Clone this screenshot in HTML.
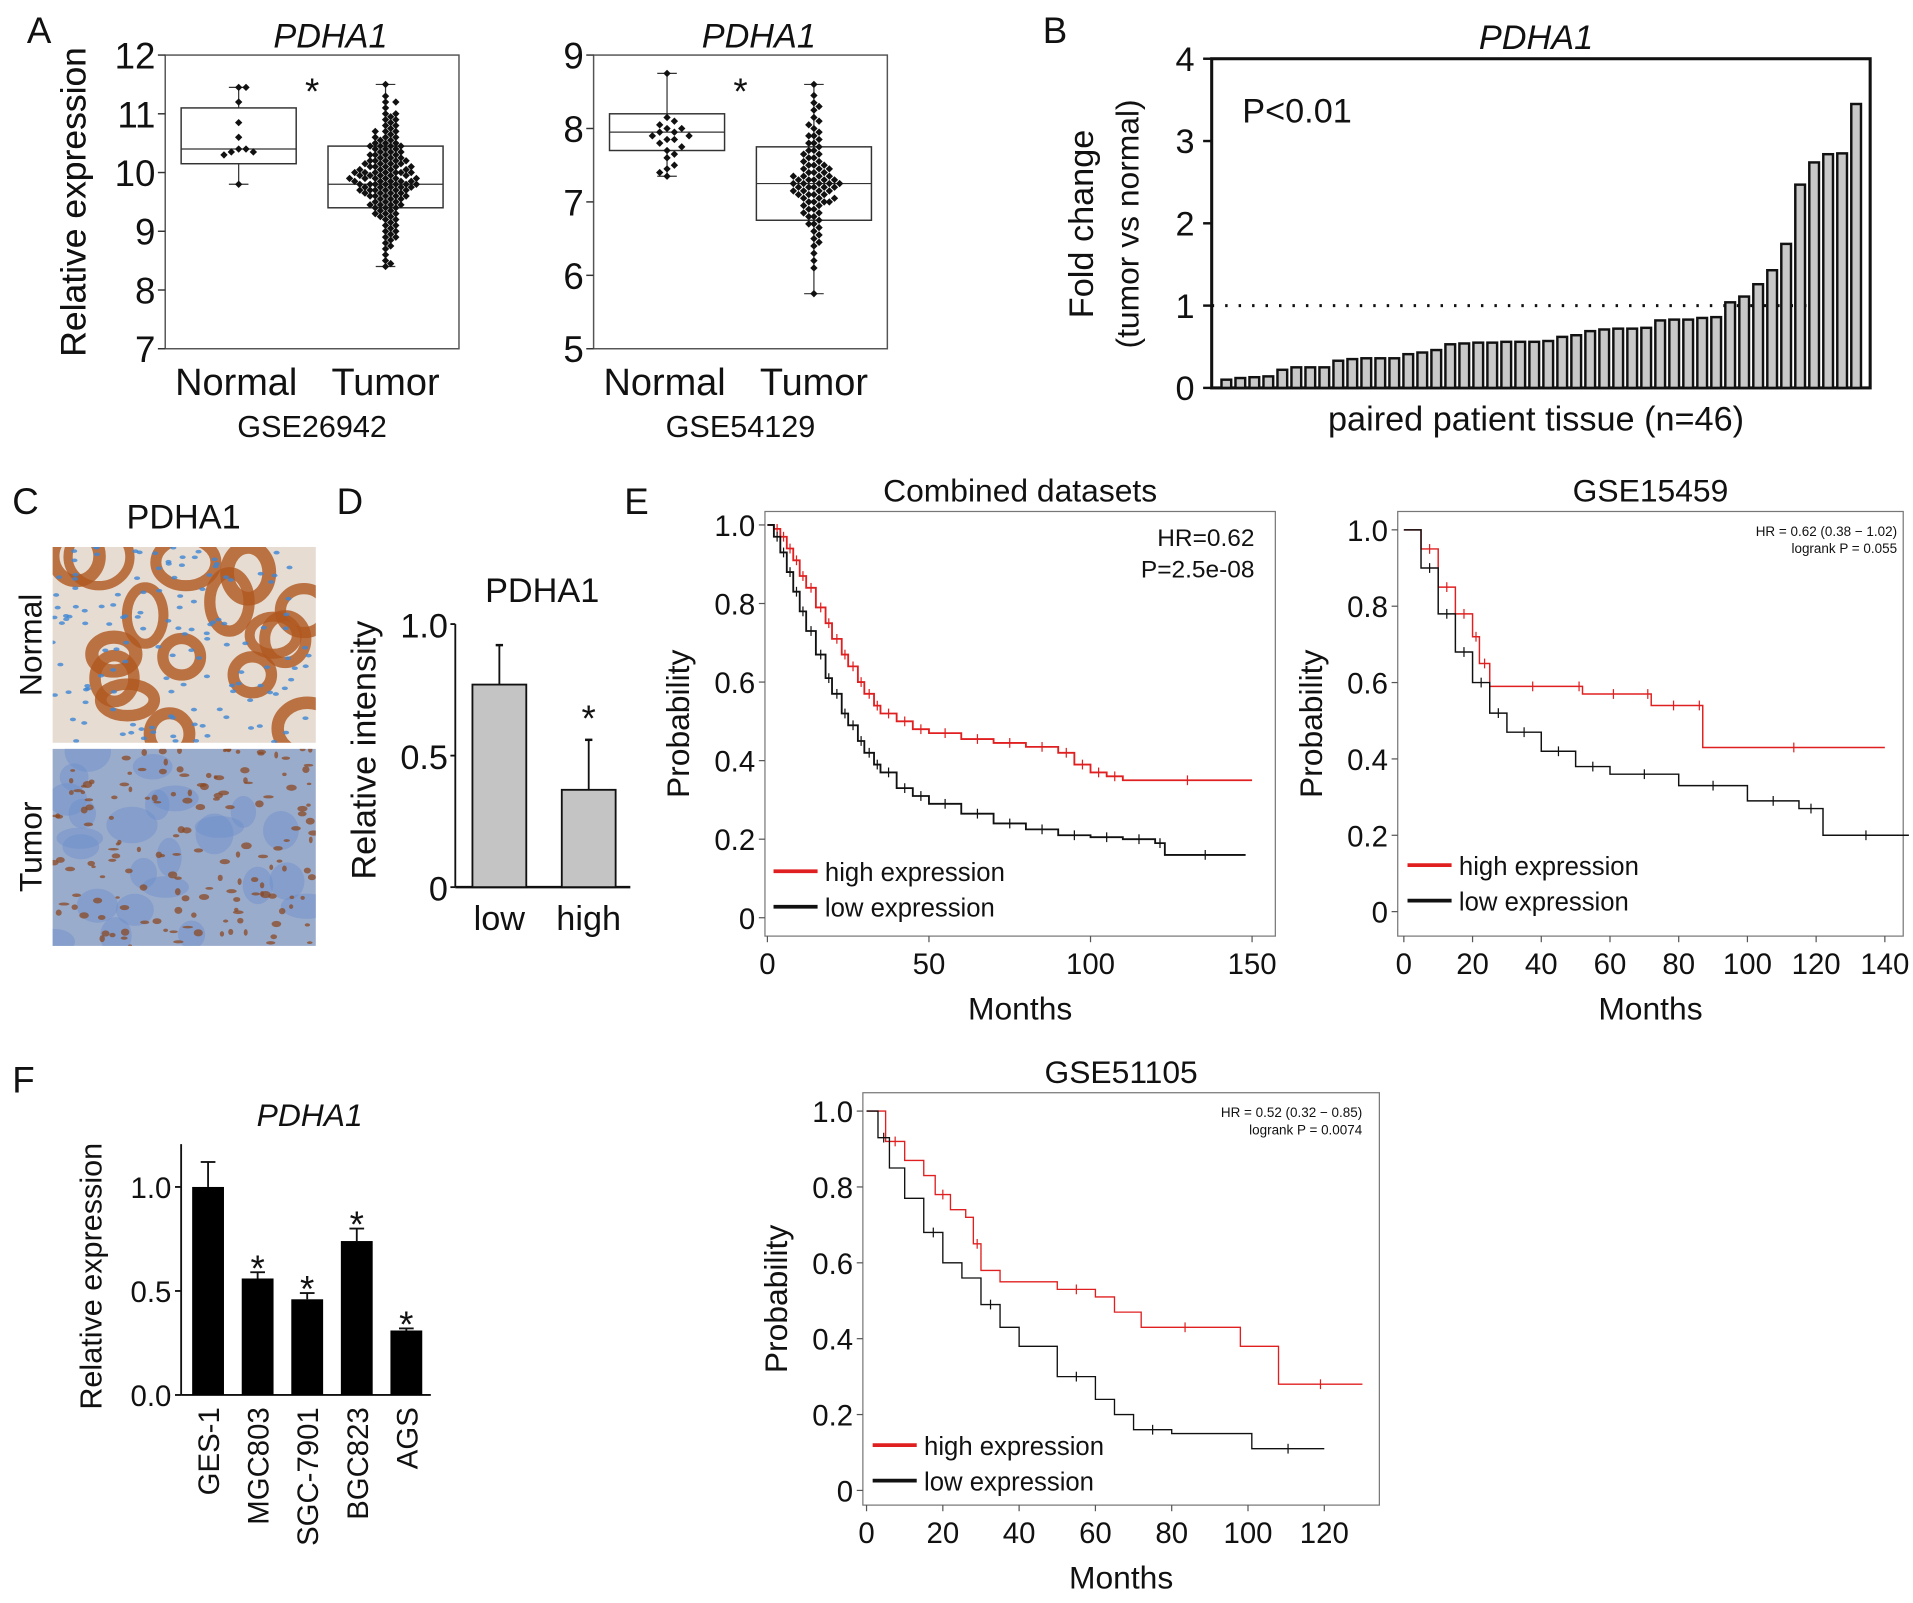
<!DOCTYPE html>
<html><head><meta charset="utf-8">
<style>
html,body{margin:0;padding:0;background:#fff;}
svg{display:block;font-family:"Liberation Sans",sans-serif;}
</style></head>
<body>
<svg id="fig" width="1913" height="1603" viewBox="0 0 1563 1310" preserveAspectRatio="none" xmlns="http://www.w3.org/2000/svg">
<defs>
<clipPath id="clipN"><rect x="43" y="447" width="215" height="160"/></clipPath>
<clipPath id="clipT"><rect x="43" y="612" width="215" height="161"/></clipPath>
</defs>
<rect width="1563" height="1310" fill="#fff"/>
<g id="root"></g>
</svg>
<script>
// ---------- data ----------
const a1NormalVals=[10.4,10.4,10.35,11.45,11.45,11.2,10.85,10.6,10.35,9.8,10.3];
const a1TumorVals=[11.5,11.3,11.2,11.1,11.0,10.95,10.9,10.85,10.8,10.75,10.7,10.7,10.65,10.6,10.6,10.55,10.5,10.5,10.45,10.45,10.4,10.4,10.35,10.35,10.3,10.3,10.25,10.25,10.2,10.2,10.2,10.15,10.15,10.1,10.1,10.1,10.05,10.05,10.0,10.0,10.0,10.0,9.95,9.95,9.95,9.9,9.9,9.9,9.85,9.85,9.85,9.8,9.8,9.8,9.8,9.75,9.75,9.75,9.7,9.7,9.7,9.65,9.65,9.6,9.6,9.6,9.55,9.55,9.5,9.5,9.45,9.45,9.4,9.4,9.35,9.3,9.3,9.25,9.2,9.15,9.1,9.05,9.0,8.95,8.9,8.85,8.8,8.7,8.6,8.5,8.45,8.4,
10.9,10.8,10.7,10.6,10.55,10.5,10.45,10.4,10.35,10.3,10.25,10.2,10.15,10.1,10.05,10.0,9.95,9.9,9.85,9.8,9.75,9.7,9.65,9.6,9.55,9.5,9.45,9.4,9.35,9.3,9.2,9.1,9.0,8.9,10.3,10.2,10.1,10.0,9.9,9.8,9.7,9.6,10.15,10.05,9.95,9.85,9.75,9.65,10.0,9.9,9.8,9.7,10.45,9.45,9.25,8.75,11.2,11.0];
const a2NormalVals=[8.75,8.15,8.1,8.05,8.0,8.0,7.95,7.95,7.9,7.9,7.85,7.85,7.8,7.75,7.7,7.65,7.6,7.5,7.45,7.4,7.35];
const a2TumorVals=[8.6,8.45,8.35,8.25,8.15,8.1,8.0,7.95,7.9,7.85,7.8,7.75,7.7,7.7,7.65,7.6,7.55,7.5,7.5,7.45,7.45,7.4,7.4,7.35,7.35,7.3,7.3,7.3,7.25,7.25,7.25,7.2,7.2,7.2,7.15,7.15,7.1,7.1,7.05,7.05,7.0,7.0,6.95,6.9,6.85,6.8,6.75,6.7,6.65,6.6,6.5,6.4,6.3,6.2,6.1,5.75,
8.3,8.05,7.9,7.8,7.65,7.55,7.45,7.35,7.3,7.25,7.2,7.15,7.1,7.0,6.95,6.9,6.8,6.7,6.55,6.45,7.6,7.5,7.4,7.3,7.2,7.1,7.0,6.85,7.35,7.25,7.15,7.05];
const bFold=[0.1,0.12,0.13,0.14,0.22,0.25,0.25,0.25,0.33,0.35,0.36,0.36,0.36,0.41,0.43,0.46,0.53,0.54,0.55,0.55,0.56,0.56,0.56,0.57,0.62,0.64,0.69,0.71,0.72,0.72,0.73,0.82,0.83,0.83,0.85,0.86,1.04,1.11,1.26,1.43,1.75,2.47,2.74,2.84,2.85,3.45];
const dCats=["low","high"];
const dVals=[0.77,0.37];
const dErr=[0.92,0.56];
const fCats=["GES-1","MGC803","SGC-7901","BGC823","AGS"];
const fVals=[1.0,0.56,0.46,0.74,0.31];
const fErr=[1.12,0.59,0.49,0.80,0.32];
const e1High=[[0,1],[2,.99],[4,.97],[6,.94],[8,.91],[10,.87],[12,.84],[15,.79],[18,.75],[20,.71],[23,.67],[25,.64],[28,.6],[30,.57],[33,.54],[35,.52],[40,.5],[45,.48],[50,.47],[60,.455],[70,.445],[80,.435],[90,.42],[95,.39],[100,.37],[105,.36],[110,.35],[150,.35]];
const e1Low=[[0,1],[2,.97],[4,.93],[6,.88],[8,.83],[10,.78],[12,.73],[15,.67],[18,.61],[20,.57],[23,.52],[25,.49],[28,.45],[30,.42],[33,.39],[35,.37],[40,.33],[45,.31],[50,.29],[60,.265],[70,.24],[80,.225],[90,.21],[100,.205],[110,.2],[120,.19],[123,.16],[148,.16]];
const e2High=[[0,1],[5,.95],[10,.85],[15,.78],[20,.72],[22,.65],[25,.59],[50,.59],[52,.57],[70,.57],[72,.54],[85,.54],[87,.43],[140,.43]];
const e2Low=[[0,1],[5,.9],[10,.78],[15,.68],[20,.6],[25,.52],[30,.47],[40,.42],[50,.38],[60,.36],[80,.33],[100,.29],[115,.27],[122,.2],[147,.2]];
const e3High=[[0,1],[5,.92],[10,.87],[15,.83],[18,.78],[22,.74],[26,.72],[28,.65],[30,.58],[35,.55],[50,.53],[60,.51],[65,.47],[72,.43],[95,.43],[98,.38],[108,.28],[130,.28]];
const e3Low=[[0,1],[3,.93],[6,.85],[10,.77],[15,.68],[20,.6],[25,.56],[30,.49],[35,.43],[40,.38],[50,.3],[60,.24],[65,.2],[70,.16],[80,.15],[100,.15],[101,.11],[120,.11]];

// ---------- helpers ----------
const NS="http://www.w3.org/2000/svg";
const root=document.getElementById('root');
function el(tag,attrs,parent,txt){const e=document.createElementNS(NS,tag);for(const k in attrs)e.setAttribute(k,attrs[k]);if(txt!==undefined)e.textContent=txt;(parent||root).appendChild(e);return e;}
function grp(name,parent){const g=el('g',{},parent);return g;}
function text(g,name,x,y,s,size,anchor,extra){const t=el('text',Object.assign({x:x,y:y,'font-size':size,'text-anchor':anchor||'middle',fill:'#111'},extra||{}),g,s);return t;}
function vtext(g,name,x,y,s,size){return text(g,name,x,y,s,size,'middle',{transform:`rotate(-90 ${x} ${y})`});}
function line(g,x1,y1,x2,y2,c,w,extra){return el('line',Object.assign({x1,y1,x2,y2,stroke:c||'#111','stroke-width':w||1.5},extra||{}),g);}

[['A',22,35],['B',852,35],['C',10,420],['D',275,420],['E',510,420],['F',10,893]].forEach(p=>{text(root,'panel-label-'+p[0].toLowerCase(),p[1],p[2],p[0],30,'start');});

// ---------- panel A ----------
function boxPanel(name,x0,x1,yTop,yBot,vMax,vMin,ticks,title,gse,normal,tumor,nBox,tBox){
  const g=grp(name);
  const y=v=>yBot-(v-vMin)/(vMax-vMin)*(yBot-yTop);
  el('rect',{x:x0,y:yTop,width:x1-x0,height:yBot-yTop,fill:'none',stroke:'#555','stroke-width':1.2},g);
  ticks.forEach(t=>{line(g,x0-6,y(t),x0,y(t),'#333',1.2);text(g,'y-tick-'+t,x0-8,y(t)+11,String(t),30,'end');});
  vtext(g,'y-axis-title',70,(yTop+yBot)/2,'Relative expression',29);
  text(g,'chart-title',(x0+x1)/2+15,yTop-6,title,28,'middle',{'font-style':'italic'});
  const cx=[x0+(x1-x0)*0.25,x0+(x1-x0)*0.75];
  text(g,'x-label-normal',cx[0]-2,yBot+38,'Normal',31);
  text(g,'x-label-tumor',cx[1],yBot+38,'Tumor',31);
  text(g,'dataset-label',(x0+x1)/2,yBot+72,gse,25);
  text(g,'significance-star',(x0+x1)/2,yTop+40,'*',30);
  [[nBox,cx[0],normal,6],[tBox,cx[1],tumor,4.2]].forEach(([b,c,vals,sp])=>{
    const hw=47;
    line(g,c,y(b[0]),c,y(b[1]),'#333',1);line(g,c,y(b[3]),c,y(b[4]),'#333',1);
    line(g,c-8,y(b[0]),c+8,y(b[0]),'#333',1);line(g,c-8,y(b[4]),c+8,y(b[4]),'#333',1);
    el('rect',{x:c-hw,y:y(b[3]),width:hw*2,height:y(b[1])-y(b[3]),fill:'none',stroke:'#333','stroke-width':1.2},g);
    line(g,c-hw,y(b[2]),c+hw,y(b[2]),'#333',1);
    const placed=[];
    vals.forEach(v=>{const py=y(v);let k=0,px=c;
      for(;k<80;k++){px=c+(k%2?1:-1)*Math.ceil(k/2)*sp;if(!placed.some(p=>Math.hypot(p[0]-px,p[1]-py)<sp))break;}
      placed.push([px,py]);
      const d=el('path',{d:`M${px},${py-3}L${px+3},${py}L${px},${py+3}L${px-3},${py}Z`,fill:'#111'},g);
      
    });
  });
}
boxPanel('panel-a-gse26942',135,375,45,285,12,7,[12,11,10,9,8,7],'PDHA1','GSE26942',a1NormalVals,a1TumorVals,[9.8,10.15,10.4,11.1,11.45],[8.4,9.4,9.8,10.45,11.5]);
boxPanel('panel-a-gse54129',485,725,45,285,9,5,[9,8,7,6,5],'PDHA1','GSE54129',a2NormalVals,a2TumorVals,[7.35,7.7,7.95,8.2,8.75],[5.75,6.75,7.25,7.75,8.6]);

// ---------- panel B ----------
(function(){
  const g=grp('panel-b-fold-change');
  const x0=990,x1=1528,yT=48,yB=317;
  const y=v=>yB-v/4*(yB-yT);
  el('rect',{x:x0,y:yT,width:x1-x0,height:yB-yT,fill:'none',stroke:'#111','stroke-width':2.5},g);
  [0,1,2,3,4].forEach(t=>{line(g,x0-7,y(t),x0,y(t),'#111',2);text(g,'y-tick-'+t,x0-14,y(t)+10,String(t),28,'end');});
  line(g,x0,y(1),x1,y(1),'#111',2.5,{'stroke-dasharray':'2 9'});
  text(g,'chart-title',1255,40,'PDHA1',28,'middle',{'font-style':'italic'});
  text(g,'p-value',1015,100,'P<0.01',28,'start');
  vtext(g,'y-axis-title-1',893,183,'Fold change',28);
  vtext(g,'y-axis-title-2',930,183,'(tumor vs normal)',26);
  text(g,'x-axis-title',1255,352,'paired patient tissue (n=46)',28);
  const step=(x1-x0-12)/bFold.length;
  bFold.forEach((v,i)=>{const r=el('rect',{x:x0+8+i*step,y:y(v),width:step-3.5,height:yB-y(v),fill:'#c8c8c8',stroke:'#111','stroke-width':2},g);
    });
})();

// ---------- panel C ----------
(function(){
  const g=grp('panel-c-ihc');
  text(g,'ihc-title',150,432,'PDHA1',28);
  vtext(g,'label-normal',34,527,'Normal',26);
  vtext(g,'label-tumor',34,692,'Tumor',26);
  const n=el('rect',{x:43,y:447,width:215,height:160,fill:'#e6dcd2'},g);
  const t=el('rect',{x:43,y:612,width:215,height:161,fill:'#9aaccc'},g);
  const gn=el('g',{'clip-path':'url(#clipN)'},g), gt=el('g',{'clip-path':'url(#clipT)'},g);
  let s=7;const rnd=()=>{s=(s*9301+49297)%233280;return s/233280;};
  for(let i=0;i<16;i++){el('ellipse',{cx:43+rnd()*215,cy:447+rnd()*160,rx:14+rnd()*12,ry:12+rnd()*12,fill:'none',stroke:'#b0581f','stroke-width':7+rnd()*5,opacity:0.8},gn);}
  for(let i=0;i<140;i++){el('ellipse',{cx:43+rnd()*215,cy:447+rnd()*160,rx:2.5,ry:1.5,fill:'#3d86d6',opacity:0.8},gn);}
  for(let i=0;i<25;i++){el('ellipse',{cx:43+rnd()*215,cy:612+rnd()*161,rx:10+rnd()*12,ry:8+rnd()*10,fill:'#6f8fcc',opacity:0.5},gt);}
  for(let i=0;i<160;i++){el('ellipse',{cx:43+rnd()*215,cy:612+rnd()*161,rx:1.5+rnd()*3,ry:1+rnd()*2,fill:'#8a4a24',opacity:0.75},gt);}
})();

// ---------- panel D ----------
(function(){
  const g=grp('panel-d-intensity');
  const ax=372,yT=510,yB=725,xE=515;
  const y=v=>yB-v*(yB-yT);
  line(g,ax,yT,ax,yB,'#111',1.5);line(g,ax,yB,xE,yB,'#111',2);
  [[0,'0'],[0.5,'0.5'],[1,'1.0']].forEach(t=>{line(g,ax-4,y(t[0]),ax,y(t[0]),'#111',1.5);text(g,'y-tick-'+t[1],ax-6,y(t[0])+11,t[1],28,'end');});
  text(g,'chart-title',443,492,'PDHA1',28);
  vtext(g,'y-axis-title',307,613,'Relative  intensity',28);
  const cx=[408,481];
  dCats.forEach((c,i)=>{
    line(g,cx[i],y(dErr[i]),cx[i],y(dVals[i]),'#111',1.5);line(g,cx[i]-3,y(dErr[i]),cx[i]+3,y(dErr[i]),'#111',2);
    const r=el('rect',{x:cx[i]-22,y:y(dVals[i]),width:44,height:yB-y(dVals[i]),fill:'#c4c4c4',stroke:'#111','stroke-width':1.5},g);
    
    text(g,'x-label-'+c,cx[i],yB+35,c,28);
  });
  text(g,'significance-star',481,y(dErr[1])-7,'*',30);
})();

// ---------- KM plots ----------
function km(name,o){
  const g=grp(name);
  const X=t=>o.x0+t/o.xMax*(o.x1-o.x0), Y=p=>o.yB-p*(o.yB-o.yT);
  el('rect',{x:o.bx0,y:o.by0,width:o.bx1-o.bx0,height:o.by1-o.by0,fill:'none',stroke:'#777','stroke-width':1},g);
  o.yTicks.forEach(t=>{line(g,o.bx0-5,Y(t),o.bx0,Y(t),'#555',1);text(g,'y-tick-'+t,o.bx0-8,Y(t)+9,t===0?'0':t.toFixed(1),o.fs,'end');});
  o.xTicks.forEach(t=>{line(g,X(t),o.by1,X(t),o.by1+5,'#555',1);text(g,'x-tick-'+t,X(t),o.by1+31,String(t),o.fs);});
  text(g,'chart-title',(o.bx0+o.bx1)/2,o.by0-8,o.title,o.fs+2);
  text(g,'x-axis-title',(o.bx0+o.bx1)/2,o.by1+68,'Months',o.fs+2);
  vtext(g,'y-axis-title',o.bx0-62,(o.by0+o.by1)/2,'Probability',o.fs+2);
  [[o.high,'#e02020','high-expression-curve'],[o.low,'#111','low-expression-curve']].forEach(([d,c,n])=>{
    let p='M'+X(d[0][0])+','+Y(d[0][1]);
    for(let i=1;i<d.length;i++){p+=' H'+X(d[i][0])+' V'+Y(d[i][1]);}
    const path=el('path',{d:p,fill:'none',stroke:c,'stroke-width':o.lw},g);
    
    for(let i=2;i<d.length;i+=o.every){const tx=X((d[i-1][0]+d[i][0])/2),ty=Y(d[i-1][1]);line(g,tx,ty-4,tx,ty+4,c,1);}
  });
  const lg=grp('legend',g);
  line(lg,o.lx,o.ly,o.lx+36,o.ly,'#e02020',3);text(lg,'legend-high',o.lx+42,o.ly+8,'high expression',o.fs-3,'start');
  line(lg,o.lx,o.ly+29,o.lx+36,o.ly+29,'#111',3);text(lg,'legend-low',o.lx+42,o.ly+37,'low expression',o.fs-3,'start');
  o.stats.forEach((s,i)=>text(g,'stats-'+i,o.sx,o.sy+i*o.sdy,s,o.sfs,'end'));
}
km('panel-e-combined',{bx0:625,bx1:1042,by0:418,by1:765,x0:627,x1:1023,xMax:150,yT:429,yB:750,yTicks:[0,0.2,0.4,0.6,0.8,1.0],xTicks:[0,50,100,150],title:'Combined datasets',fs:24,lw:1.5,every:1,high:e1High,low:e1Low,lx:632,ly:712,stats:['HR=0.62','P=2.5e-08'],sx:1025,sy:446,sdy:26,sfs:20});
km('panel-e-gse15459',{bx0:1142,bx1:1555,by0:418,by1:765,x0:1147,x1:1540,xMax:140,yT:433,yB:745,yTicks:[0,0.2,0.4,0.6,0.8,1.0],xTicks:[0,20,40,60,80,100,120,140],title:'GSE15459',fs:24,lw:1.2,every:1,high:e2High,low:e2Low,lx:1150,ly:707,stats:['HR = 0.62 (0.38 \u2212 1.02)','logrank P = 0.055'],sx:1550,sy:438,sdy:14,sfs:11});
km('panel-f-gse51105',{bx0:705,bx1:1127,by0:893,by1:1230,x0:708,x1:1082,xMax:120,yT:908,yB:1218,yTicks:[0,0.2,0.4,0.6,0.8,1.0],xTicks:[0,20,40,60,80,100,120],title:'GSE51105',fs:24,lw:1.1,every:3,high:e3High,low:e3Low,lx:713,ly:1181,stats:['HR = 0.52 (0.32 \u2212 0.85)','logrank P = 0.0074'],sx:1113,sy:913,sdy:14,sfs:11});

// ---------- panel F bars ----------
(function(){
  const g=grp('panel-f-cell-lines');
  const ax=148,yB=1140,y1=970;
  const y=v=>yB-v*(yB-y1);
  line(g,ax,935,ax,yB,'#111',1.5);line(g,ax,yB,352,yB,'#111',1.5);
  [[0,'0.0'],[0.5,'0.5'],[1,'1.0']].forEach(t=>{line(g,ax-5,y(t[0]),ax,y(t[0]),'#111',1.5);text(g,'y-tick-'+t[1],ax-8,y(t[0])+9,t[1],24,'end');});
  text(g,'chart-title',253,920,'PDHA1',26,'middle',{'font-style':'italic'});
  vtext(g,'y-axis-title',83,1043,'Relative expression',25);
  fCats.forEach((c,i)=>{
    const cx=170+i*40.5;
    line(g,cx,y(fErr[i]),cx,y(fVals[i]),'#111',1.5);line(g,cx-6,y(fErr[i]),cx+6,y(fErr[i]),'#111',1.5);
    const r=el('rect',{x:cx-13,y:y(fVals[i]),width:26,height:yB-y(fVals[i]),fill:'#000'},g);
    
    text(g,'x-label-'+c.toLowerCase(),cx+9,1150,c,24,'end',{transform:`rotate(-90 ${cx+9} 1150)`});
    if(i>0)text(g,'significance-star-'+i,cx,y(fErr[i])+7,'*',30);
  });
})();
</script>
</body></html>
